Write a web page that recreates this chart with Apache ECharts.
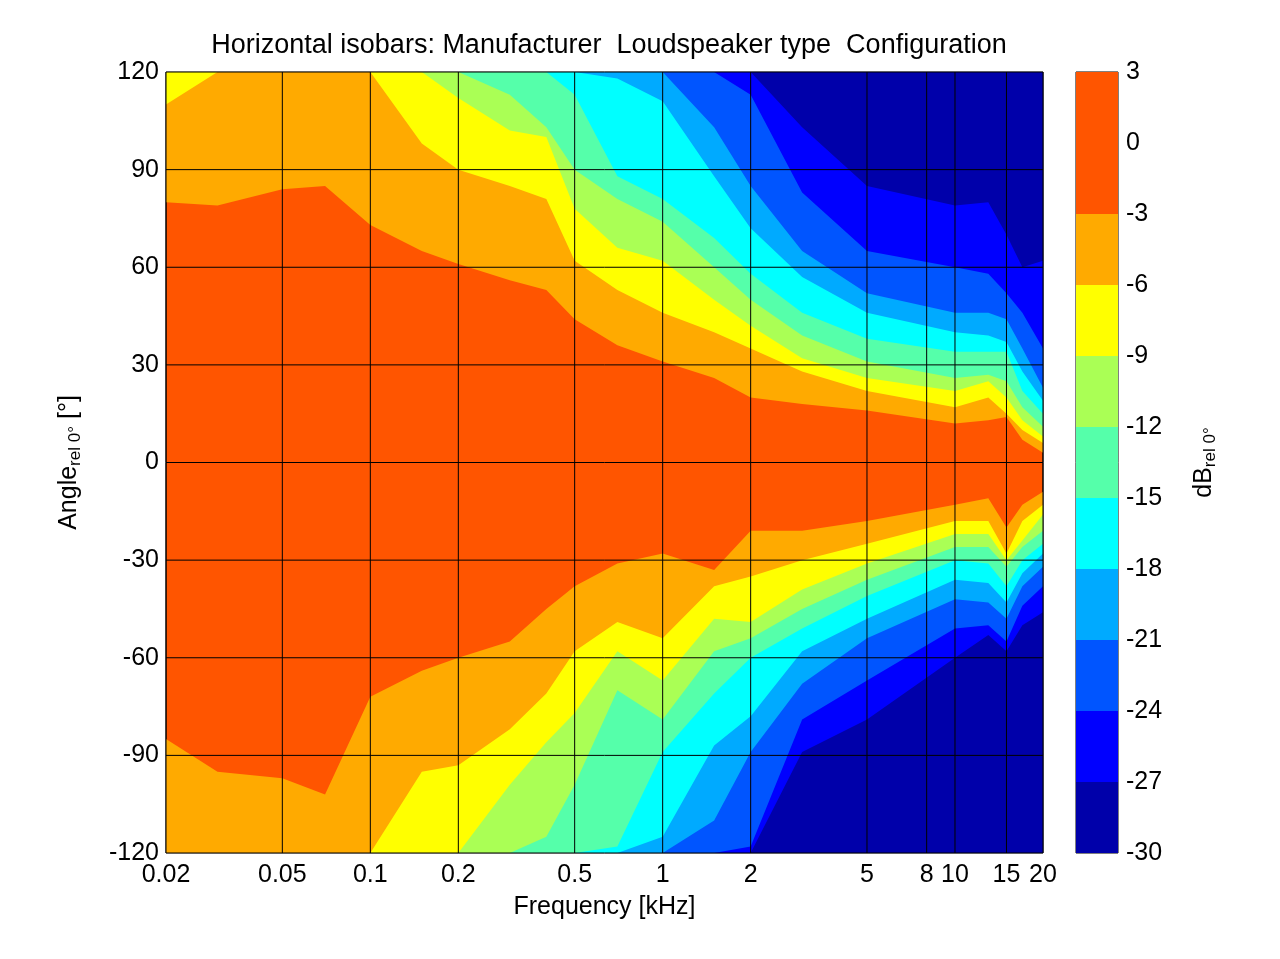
<!DOCTYPE html>
<html><head><meta charset="utf-8">
<script src="https://cdn.jsdelivr.net/npm/echarts@6/dist/echarts.min.js"></script>
<style>html,body{margin:0;background:#fff}#c{width:1280px;height:959px}</style>
</head><body><div id="c"></div>
<script>
const freqs = [0.02,0.03,0.05,0.07,0.1,0.15,0.2,0.3,0.4,0.5,0.7,1,1.5,2,3,5,10,13,15,17,20];
const xTicks = [0.02,0.05,0.1,0.2,0.5,1,2,5,8,10,15,20];
const yTicks = [-120,-90,-60,-30,0,30,60,90,120];
const levels = [-3,-6,-9,-12,-15,-18,-21,-24,-27];
const bandColors = ['#0000AA','#0000FF','#0055FF','#00AAFF','#00FFFF','#55FFAA','#AAFF55','#FFFF00','#FFAA00','#FF5500','#FF5500'];
// upper boundary angle of each level (deg)
const up3  = [80,79,84,85,73,65,61,56,53,44,36,31,26,20,18,16,12,13,14,7,3];
const up6  = [110,120,120,120,120,98,90,85,81,62,53,46,40,35,28,22,17,20,15,10,6];
const up9  = [120,120,120,120,120,120,112,102,100,78,66,62,50,42,32,26,22,25,20,13,8];
const up12 = [120,120,120,120,120,120,120,113,103,90,81,74,60,50,39,31,26,27,25,17,11];
const up15 = [120,120,120,120,120,120,120,120,120,113,88,81,69,58,46,38,34,34,34,22,15];
const up18 = [120,120,120,120,120,120,120,120,120,120,118,111,88,72,57,46,40,39,37,28,19];
const up21 = [120,120,120,120,120,120,120,120,120,120,120,120,103,85,65,52,46,46,44,35,23];
const up24 = [120,120,120,120,120,120,120,120,120,120,120,120,120,113,83,65,60,58,52,46,35];
const up27 = [120,120,120,120,120,120,120,120,120,120,120,120,120,120,103,85,79,80,70,60,62];
// lower boundary angle of each level (deg)
const lo3  = [-85,-95,-97,-102,-72,-64,-60,-55,-45,-38,-31,-28,-33,-21,-21,-18,-13,-11,-20,-13,-9];
const lo6  = [-120,-120,-120,-120,-120,-95,-93,-82,-71,-58,-49,-54,-38,-35,-30,-25,-18,-18,-28,-18,-13];
const lo9  = [-120,-120,-120,-120,-120,-120,-120,-99,-86,-77,-58,-67,-48,-49,-39,-31,-22,-22,-30,-24,-16];
const lo12 = [-120,-120,-120,-120,-120,-120,-120,-120,-115,-99,-70,-79,-58,-54,-45,-36,-26,-26,-32,-26,-21];
const lo15 = [-120,-120,-120,-120,-120,-120,-120,-120,-120,-120,-118,-89,-71,-60,-51,-41,-30,-31,-38,-30,-25];
const lo18 = [-120,-120,-120,-120,-120,-120,-120,-120,-120,-120,-120,-115,-87,-78,-58,-48,-36,-37,-43,-34,-28];
const lo21 = [-120,-120,-120,-120,-120,-120,-120,-120,-120,-120,-120,-120,-110,-89,-68,-54,-42,-43,-48,-38,-32];
const lo24 = [-120,-120,-120,-120,-120,-120,-120,-120,-120,-120,-120,-120,-120,-118,-79,-67,-51,-50,-55,-44,-38];
const lo27 = [-120,-120,-120,-120,-120,-120,-120,-120,-120,-120,-120,-120,-120,-120,-89,-79,-60,-53,-58,-50,-46];

const ups = [up3,up6,up9,up12,up15,up18,up21,up24,up27];
const los = [lo3,lo6,lo9,lo12,lo15,lo18,lo21,lo24,lo27];
function colorBelow(level){ return bandColors[(level - 3 + 30) / 3]; }
const series = [];
levels.forEach((lv,i)=>{
  const col = colorBelow(lv);
  series.push({type:'line',xAxisIndex:0,yAxisIndex:0,showSymbol:false,silent:true,z:2,
    data:freqs.map((f,j)=>[f,ups[i][j]]),lineStyle:{width:0},itemStyle:{color:col},
    areaStyle:{color:col,opacity:1,origin:'end'}});
  series.push({type:'line',xAxisIndex:0,yAxisIndex:0,showSymbol:false,silent:true,z:2,
    data:freqs.map((f,j)=>[f,los[i][j]]),lineStyle:{width:0},itemStyle:{color:col},
    areaStyle:{color:col,opacity:1,origin:'start'}});
});
xTicks.forEach(v=>series.push({type:'line',xAxisIndex:0,yAxisIndex:0,showSymbol:false,silent:true,z:20,
  data:[[v,-120],[v,120]],lineStyle:{color:'#000',width:1}}));
yTicks.forEach(v=>series.push({type:'line',xAxisIndex:0,yAxisIndex:0,showSymbol:false,silent:true,z:20,
  data:[[0.02,v],[20,v]],lineStyle:{color:'#000',width:1}}));
const cbLevels = [-30,-27,-24,-21,-18,-15,-12,-9,-6,-3,0];
series.push({type:'line',xAxisIndex:1,yAxisIndex:1,data:[],silent:true,
  markArea:{silent:true,data:cbLevels.map((v,k)=>[{yAxis:v,itemStyle:{color:bandColors[k]}},{yAxis:v+3}])}});

const font = 'Liberation Sans, Arial, sans-serif';
const FS = 25;
const chart = echarts.init(document.getElementById('c'));
chart.setOption({
  animation:false,
  title:{text:'Horizontal isobars: Manufacturer  Loudspeaker type  Configuration',left:604,top:27,textAlign:'center',
    textStyle:{fontFamily:font,fontSize:27,fontWeight:'normal',color:'#000'}},
  grid:[{left:166,top:72,right:237,bottom:106,show:true,backgroundColor:'#FF5500',borderColor:'#000',borderWidth:1},
        {left:1076,top:72,width:42,bottom:106,show:true,borderColor:'#000',borderWidth:1}],
  xAxis:[{type:'log',logBase:10,min:0.02,max:20,gridIndex:0,
    axisLine:{show:false},splitLine:{show:false},axisTick:{show:false},
    axisLabel:{customValues:xTicks,formatter:v=>String(+v.toPrecision(3)),fontFamily:font,fontSize:FS,color:'#000',margin:10},
    name:'Frequency [kHz]',nameLocation:'middle',nameGap:42,nameTextStyle:{fontFamily:font,fontSize:FS,color:'#000'}},
    {type:'value',gridIndex:1,min:0,max:1,show:false}],
  yAxis:[{type:'value',min:-120,max:120,interval:30,gridIndex:0,
    axisLine:{show:false},splitLine:{show:false},axisTick:{show:false},
    axisLabel:{fontFamily:font,fontSize:FS,color:'#000',margin:7},
    name:'{a|Angle}{s|rel 0°}{a| [°]}',nameLocation:'middle',nameGap:82,nameRotate:90,
    nameTextStyle:{rich:{a:{fontFamily:font,fontSize:FS,color:'#000'},s:{fontFamily:font,fontSize:17,color:'#000',padding:[12,0,0,0]}}}},
    {type:'value',min:-30,max:3,interval:3,gridIndex:1,position:'right',
    axisLine:{show:false},splitLine:{show:false},axisTick:{show:false},
    axisLabel:{fontFamily:font,fontSize:FS,color:'#000',margin:8},
    name:'{a|dB}{s|rel 0°}',nameLocation:'middle',nameGap:72,nameRotate:90,
    nameTextStyle:{rich:{a:{fontFamily:font,fontSize:FS,color:'#000'},s:{fontFamily:font,fontSize:17,color:'#000',padding:[12,0,0,0]}}}}],
  series
});
</script></body></html>
